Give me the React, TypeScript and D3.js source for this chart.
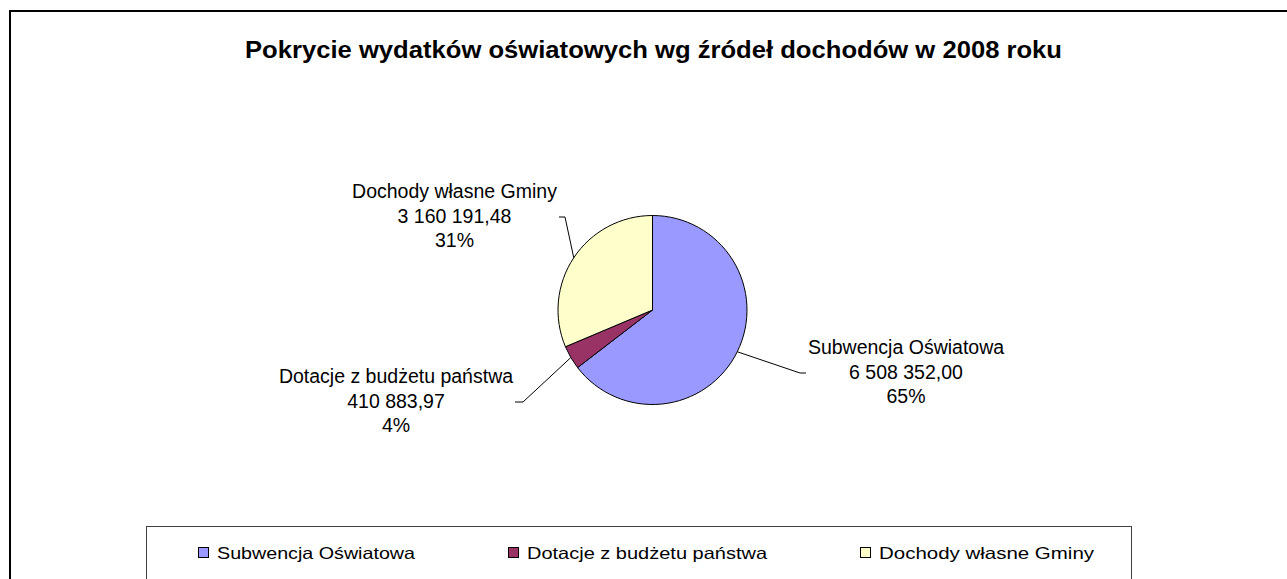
import React from "react";
import * as d3 from "d3";

const categories = ["Subwencja Oświatowa", "Dotacje z budżetu państwa", "Dochody własne Gminy"];
const values = [6508352.0, 410883.97, 3160191.48];
const colors = ["#9999FF", "#993366", "#FFFFCC"];
const title = "Pokrycie wydatków oświatowych wg źródeł dochodów w 2008 roku";

const W = 1287;
const H = 579;
const cx = 652.5;
const cy = 310;
const R = 94.5;

// label layout (positions only)
const labelLayout = [
  { knee: [800, 373], end: [806, 373], tx: 906, ty: 354 },
  { knee: [523, 402], end: [515, 402], tx: 396, ty: 383 },
  { knee: [565, 217], end: [559, 217], tx: 454.5, ty: 198 },
];
const legendX = [198, 508, 860];
const legendTextLen = [198, 240, 215];

const locale = d3.formatLocale({ decimal: ",", thousands: " ", grouping: [3], currency: ["", " zł"] });
const fmtVal = locale.format(",.2f");
const fmtPct = d3.format(".0%");

export default function App() {
  const total = d3.sum(values);
  const pie = d3.pie<number>().sort(null).value((d) => d).startAngle(0).endAngle(2 * Math.PI);
  const arcs = pie(values);
  const arc = d3.arc<d3.PieArcDatum<number>>().innerRadius(0).outerRadius(R);
  const font = "Arial, 'Liberation Sans', sans-serif";

  return (
    <svg width={W} height={H} style={{ position: "absolute", left: 0, top: 0 }} fontFamily={font}>
      <rect x={0} y={0} width={W} height={H} fill="#fff" />
      <rect x={10} y={11} width={W + 10} height={H + 10} fill="none" stroke="#000" strokeWidth={2} />
      <text x={245} y={58} fontSize={24} fontWeight="bold" textLength={817} lengthAdjust="spacingAndGlyphs">
        {title}
      </text>
      <g transform={`translate(${cx},${cy})`}>
        {arcs.map((a, i) => (
          <path key={i} d={arc(a) || ""} fill={colors[i]} stroke="#000" strokeWidth={1} />
        ))}
      </g>
      {arcs.map((a, i) => {
        const mid = (a.startAngle + a.endAngle) / 2;
        const px = cx + R * Math.sin(mid);
        const py = cy - R * Math.cos(mid);
        const L = labelLayout[i];
        const pts = [[px, py], L.knee, L.end] as [number, number][];
        return (
          <g key={"l" + i}>
            <path d={d3.line()(pts) || ""} fill="none" stroke="#000" strokeWidth={1} />
            <text x={L.tx} y={L.ty} textAnchor="middle" fontSize={19.5}>
              {categories[i]}
            </text>
            <text x={L.tx} y={L.ty + 24.5} textAnchor="middle" fontSize={19.5}>
              {fmtVal(values[i])}
            </text>
            <text x={L.tx} y={L.ty + 49} textAnchor="middle" fontSize={19.5}>
              {fmtPct(values[i] / total)}
            </text>
          </g>
        );
      })}
      <rect x={146.5} y={526.5} width={985} height={80} fill="#fff" stroke="#404040" strokeWidth={1} />
      {categories.map((c, i) => (
        <g key={"lg" + i}>
          <rect x={legendX[i] + 0.5} y={547.5} width={10} height={10} fill={colors[i]} stroke="#000" strokeWidth={1} />
          <text x={legendX[i] + 19} y={558.5} fontSize={16.5} textLength={legendTextLen[i]} lengthAdjust="spacingAndGlyphs">
            {c}
          </text>
        </g>
      ))}
    </svg>
  );
}
